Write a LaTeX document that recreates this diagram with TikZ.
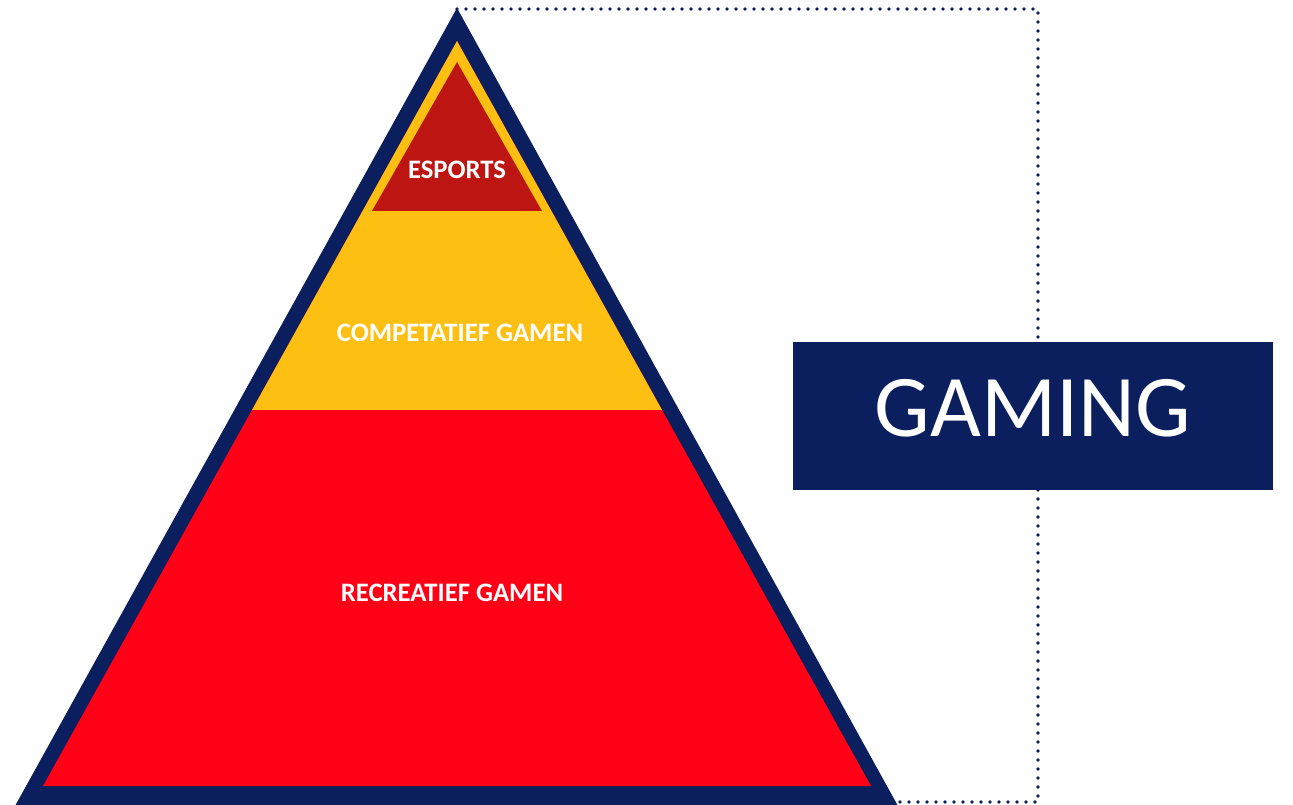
\documentclass[tikz,border=0pt]{standalone}
\usepackage{fontspec}
\setmainfont{Carlito}
\usetikzlibrary{positioning,calc}
\definecolor{gmnavy}{HTML}{0B1F5E}
\definecolor{gmgold}{HTML}{FDBF12}
\definecolor{gmred}{HTML}{FF0016}
\definecolor{gmdark}{HTML}{BC1512}

\begin{document}
\begin{tikzpicture}[
  x=0.75pt, y=-0.75pt,
  tier/.style={font=\fontsize{20}{22}\selectfont\bfseries, text=white, inner sep=0pt},
  title/.style={fill=gmnavy, text=white, font=\fontsize{66}{70}\selectfont,
                minimum width=360pt, minimum height=111pt, inner sep=0pt},
  bracket/.style={draw=gmnavy, line width=2.8pt, line cap=round,
                  dash pattern=on 0pt off 6.75pt},
]
\useasboundingbox (0,0) rectangle (1293,805);

% ---- pyramid ----
\fill[gmnavy] (457,8) -- (15,806) -- (898,806) -- cycle;
\fill[gmred]  (457,41) -- (43,786) -- (871,786) -- cycle;
\fill[gmgold] (457,41) -- (252,410) -- (662,410) -- cycle;
\fill[gmdark] (457,62) -- (372,211) -- (542,211) -- cycle;

% ---- tier labels ----
\node[tier] (esports) at (457,170) {ESPORTS};
\node[tier] (comp)    at (460,333) {COMPETATIEF GAMEN};
\node[tier] (recr)    at (452,593) {RECREATIEF GAMEN};

% ---- dotted bracket from apex to base corner ----
\coordinate (apex)   at (457,9);
\coordinate (corner) at (898,802);
\draw[bracket] (apex) -- (1038,9) -- (1038,802) -- (corner);

% ---- title box (sits on the bracket) ----
\node[title] (gaming) at (1033,416) {\raisebox{12pt}{GAMING}};
\end{tikzpicture}
\end{document}
